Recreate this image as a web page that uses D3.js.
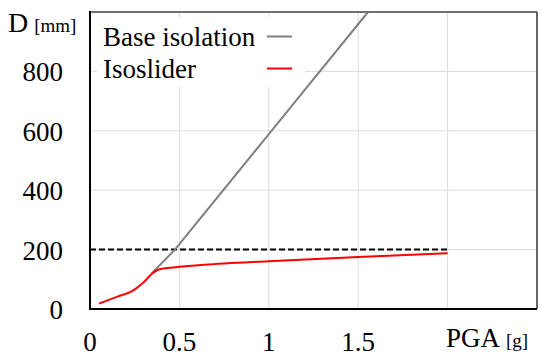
<!DOCTYPE html>
<html>
<head>
<meta charset="utf-8">
<script src="https://cdn.jsdelivr.net/npm/d3@7"></script>
<style>
  body { margin: 0; background: #fff; }
  svg { display: block; }
  text { font-family: "Liberation Serif", "Times New Roman", Times, serif; }
</style>
</head>
<body>
<script>
(function () {
  "use strict";
  var width = 542, height = 358,
    margin = { left: 90, right: 5, top: 12, bottom: 51 },
    serif = "'Liberation Serif', 'Times New Roman', Times, serif",
    x, y, svg, g, line;

  // values
  var xTicks = [0, 0.5, 1, 1.5];
  var xTickLabels = ["0", "0.5", "1", "1.5"];
  var xGrid = [0.5, 1, 1.5, 2];
  var yTicks = [0, 200, 400, 600, 800];
  var yGrid = [200, 400, 600, 800];
  var baseIso = [[0.345, 120], [0.475, 200], [1.015, 600], [1.555, 1000]];
  var isoslider = [[0.05, 18], [0.15, 41], [0.24, 62], [0.3, 90], [0.345, 118],
    [0.38, 132], [0.43, 138], [0.5, 142], [0.64, 149], [1.0, 161], [1.5, 175], [2.0, 188]];
  var limit = [[0, 200], [2.0, 200]];
  var legendNames = ["Base isolation", "Isoslider"];
  var legendColors = ["#808080", "#ff0000"];

  x = d3.scaleLinear().domain([0, 2.5]).range([margin.left, width - margin.right]);
  y = d3.scaleLinear().domain([0, 1000]).range([height - margin.bottom + 2, margin.top]);

  svg = d3.select("body").append("svg")
    .attr("width", width)
    .attr("height", height)
    .attr("font-family", serif);

  g = svg.append("g");

  // grid
  g.selectAll(".vgrid")
    .data(xGrid)
    .enter().append("line")
    .attr("x1", function (d) { return x(d); })
    .attr("x2", function (d) { return x(d); })
    .attr("y1", y(0))
    .attr("y2", y(1000))
    .attr("stroke", "#dcdcdc")
    .attr("stroke-width", 1);

  g.selectAll(".hgrid")
    .data(yGrid)
    .enter().append("line")
    .attr("x1", x(0))
    .attr("x2", x(2.5))
    .attr("y1", function (d) { return y(d); })
    .attr("y2", function (d) { return y(d); })
    .attr("stroke", "#dcdcdc")
    .attr("stroke-width", 1);

  // legend background hides the grid
  g.append("rect")
    .attr("x", 97).attr("y", 17)
    .attr("width", 208).attr("height", 70)
    .attr("fill", "#fff");

  line = d3.line()
    .x(function (d) { return x(d[0]); })
    .y(function (d) { return y(d[1]); });

  g.append("path")
    .datum(limit)
    .attr("d", line)
    .attr("fill", "none")
    .attr("stroke", "#000")
    .attr("stroke-width", 2)
    .attr("stroke-dasharray", "6,3");

  g.append("path")
    .datum(baseIso)
    .attr("d", line)
    .attr("fill", "none")
    .attr("stroke", "#808080")
    .attr("stroke-width", 2);

  g.append("path")
    .datum(isoslider)
    .attr("d", line.curve(d3.curveMonotoneX))
    .attr("fill", "none")
    .attr("stroke", "#ff0000")
    .attr("stroke-width", 2);

  // frame
  g.append("line")
    .attr("x1", x(0)).attr("x2", x(2.5))
    .attr("y1", y(1000)).attr("y2", y(1000))
    .attr("stroke", "#707070").attr("stroke-width", 2);
  g.append("line")
    .attr("x1", x(2.5)).attr("x2", x(2.5))
    .attr("y1", y(1000)).attr("y2", y(0))
    .attr("stroke", "#333").attr("stroke-width", 1.5);
  g.append("line")
    .attr("x1", x(0)).attr("x2", x(0))
    .attr("y1", y(1000) - 1).attr("y2", y(0) + 1)
    .attr("stroke", "#000").attr("stroke-width", 2);
  g.append("line")
    .attr("x1", x(0) - 1).attr("x2", x(2.5))
    .attr("y1", y(0)).attr("y2", y(0))
    .attr("stroke", "#000").attr("stroke-width", 2);

  // tick labels
  g.selectAll(".ylab")
    .data(yTicks)
    .enter().append("text")
    .attr("x", 63)
    .attr("y", function (d) { return y(d) + 10; })
    .attr("text-anchor", "end")
    .attr("font-family", serif)
    .attr("font-size", 27)
    .text(function (d) { return d; });

  g.selectAll(".xlab")
    .data(xTicks)
    .enter().append("text")
    .attr("x", function (d) { return x(d); })
    .attr("y", 351)
    .attr("text-anchor", "middle")
    .attr("font-family", serif)
    .attr("font-size", 27)
    .text(function (d, i) { return xTickLabels[i]; });

  // axis titles
  var yt = svg.append("text").attr("x", 8).attr("y", 32)
    .attr("font-family", serif).attr("font-size", 28);
  yt.append("tspan").text("D");
  yt.append("tspan").attr("dx", 6).attr("font-size", 19).text("[mm]");

  var xt = svg.append("text").attr("x", 446).attr("y", 347)
    .attr("font-family", serif).attr("font-size", 27);
  xt.append("tspan").text("PGA");
  xt.append("tspan").attr("dx", 6).attr("font-size", 19).text("[g]");

  // legend
  var leg = g.selectAll(".legend")
    .data(legendNames)
    .enter().append("g")
    .attr("transform", function (d, i) { return "translate(0," + (i * 32) + ")"; });

  leg.append("text")
    .attr("x", 103)
    .attr("y", 46)
    .attr("font-family", serif)
    .attr("font-size", 27)
    .text(function (d) { return d; });

  leg.append("line")
    .attr("x1", 267).attr("x2", 292)
    .attr("y1", 36.5).attr("y2", 36.5)
    .attr("stroke", function (d, i) { return legendColors[i]; })
    .attr("stroke-width", 2);
})();
</script>
</body>
</html>
